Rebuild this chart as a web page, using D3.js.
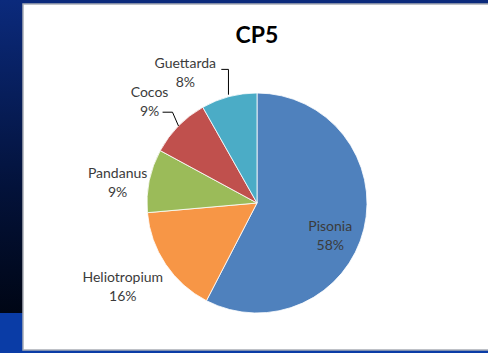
<!DOCTYPE html>
<html>
<head>
<meta charset="utf-8">
<script src="https://cdn.jsdelivr.net/npm/d3@7"></script>
<style>
  html, body { margin: 0; padding: 0; background: #0b2a7c; }
  svg { display: block; font-family: Lato, 'Open Sans', sans-serif; }
</style>
</head>
<body>
<div id="chart"></div>
<script>
// data
const species = ['Pisonia', 'Heliotropium', 'Pandanus', 'Cocos', 'Guettarda']
const shares = [57.6, 16.0, 9.3, 8.9, 8.2]
const colors = ['#4F81BD', '#F79646', '#9BBB59', '#C0504D', '#4BACC6']
const title = 'CP5'

const W = 488
const H = 353

const svg = d3.select('#chart')
  .append('svg')
  .attr('width', W)
  .attr('height', H)

/* slide background */
const defs = svg.append('defs')
const grad = defs.append('linearGradient')
  .attr('id', 'side')
  .attr('x1', 0).attr('y1', 0).attr('x2', 0).attr('y2', 1)
grad.append('stop').attr('offset', '0%').attr('stop-color', '#0b2a7c')
grad.append('stop').attr('offset', '60%').attr('stop-color', '#03123a')
grad.append('stop').attr('offset', '100%').attr('stop-color', '#000615')

svg.append('rect').attr('x', 0).attr('y', 0).attr('width', W).attr('height', H).attr('fill', '#0b2a7c')
svg.append('rect').attr('x', 0).attr('y', 0).attr('width', 23).attr('height', 313).attr('fill', 'url(#side)')
svg.append('rect').attr('x', 0).attr('y', 313).attr('width', 23).attr('height', 40).attr('fill', '#0a3ca6')
svg.append('rect').attr('x', 0).attr('y', 350).attr('width', W).attr('height', 3).attr('fill', '#0a3ca6')

// white chart area with grey rim
svg.append('rect')
  .attr('x', 23).attr('y', 4)
  .attr('width', W - 22).attr('height', 346)
  .attr('fill', '#fff')
  .attr('stroke', '#a9adb5')
  .attr('stroke-width', 1.5)

/* title */
svg.append('text')
  .attr('x', 257)
  .attr('y', 43)
  .attr('text-anchor', 'middle')
  .style('font-size', '23px')
  .style('font-weight', 'bold')
  .attr('fill', '#000')
  .text(title)

/* pie */
const cx = 257
const cy = 203
const radius = 110

const rows = species.map((s, i) => ({ name: s, value: shares[i], color: colors[i] }))

const pie = d3.pie().sort(null).value(d => d.value)
const arcs = pie(rows)

const arc = d3.arc().innerRadius(0).outerRadius(radius)

const g = svg.append('g')
  .attr('transform', 'translate(' + cx + ',' + cy + ')')

g.selectAll('path')
  .data(arcs)
  .enter()
  .append('path')
  .attr('d', arc)
  .attr('fill', d => d.data.color)
  .attr('stroke', '#fff')
  .attr('stroke-width', 0.8)

/* labels: radius and angle nudge for each, like excel's best fit */
const labelLayout = {
  Pisonia: { r: 80, turn: 10 },
  Heliotropium: { r: 158, turn: 2 },
  Pandanus: { r: 141, turn: -3 },
  Cocos: { r: 148, turn: -1 },
  Guettarda: { r: 149, turn: -14 }
}

function polar(angle, r) {
  return [Math.sin(angle) * r, -Math.cos(angle) * r]
}

const fmt = d => Math.round(d.value) + '%'

arcs.forEach(function(d) {
  const lay = labelLayout[d.data.name]
  const mid = (d.startAngle + d.endAngle) / 2
  const p = polar(mid + lay.turn * Math.PI / 180, lay.r)

  const t = g.append('text')
    .attr('text-anchor', 'middle')
    .attr('fill', '#3b3b3b')
    .style('font-size', '14px')
  t.append('tspan').attr('x', p[0]).attr('y', p[1] - 4).text(d.data.name)
  t.append('tspan').attr('x', p[0]).attr('y', p[1] + 15).text(fmt(d.data))

  d.labelPos = p
  d.mid = mid
})

// leader lines for the two small slices at the top
const line = d3.line()

const guet = arcs[4]
const gEdge = polar(guet.mid, radius + 2)
g.append('path')
  .attr('d', line([gEdge, [gEdge[0], guet.labelPos[1] - 3], [guet.labelPos[0] + 36, guet.labelPos[1] - 3]]))
  .attr('fill', 'none')
  .attr('stroke', '#000')
  .attr('stroke-width', 1)

const coco = arcs[3]
const cEdge = polar(coco.mid, radius)
g.append('path')
  .attr('d', line([cEdge, [cEdge[0] - 6, coco.labelPos[1] + 11], [coco.labelPos[0] + 13, coco.labelPos[1] + 11]]))
  .attr('fill', 'none')
  .attr('stroke', '#000')
  .attr('stroke-width', 1)
</script>
</body>
</html>
